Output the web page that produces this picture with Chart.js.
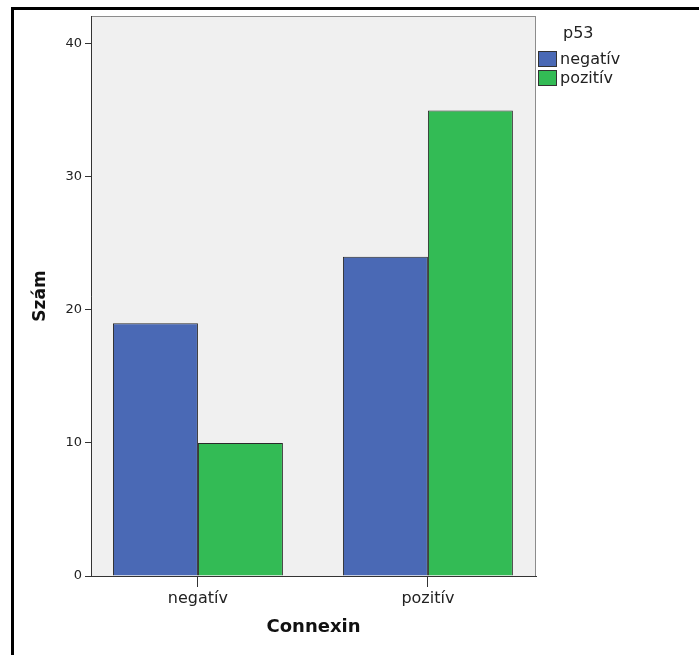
<!doctype html>
<html lang="hu">
<head>
    <meta charset="utf-8">
    <title>Connexin / p53</title>
    <script src="https://cdn.jsdelivr.net/npm/chart.js"></script>
    <style>
        body {
            margin: 0;
            background: #fff;
            font-family: "DejaVu Sans", sans-serif;
        }

        .wrap {
            position: relative;
            width: 699px;
            height: 655px;
            overflow: hidden;
        }

        /* black frame, only top and left are visible */
        .frame {
            position: absolute;
            left: 11px;
            top: 7px;
            width: 720px;
            height: 700px;
            border-top: 3px solid #000;
            border-left: 3px solid #000;
        }

        canvas {
            position: absolute;
            left: 0;
            top: 0;
        }

        .legend {
            position: absolute;
            left: 538px;
            top: 22px;
            font-size: 16px;
            color: #222;
        }

        .legend .title {
            margin-left: 25px;
            height: 27px;
            line-height: 22px;
        }

        .legend .item {
            display: flex;
            align-items: center;
            height: 19px;
        }

        .legend .box {
            width: 17px;
            height: 14px;
            border: 1px solid #333;
            margin-right: 3px;
        }
    </style>
</head>

<body>
    <div class="wrap">
        <div class="frame"></div>
        <canvas id="chart" width="699" height="655"></canvas>
        <div class="legend" id="legend"></div>
    </div>

    <script>
        // data
        const categories = ['negatív', 'pozitív'];
        const seriesNames = ['negatív', 'pozitív'];
        const negativValues = [19, 24];
        const pozitivValues = [10, 35];
        const yTicks = [0, 10, 20, 30, 40];

        const colors = ['#4a69b5', '#33bb55'];

        // legend
        const legend = document.getElementById('legend');
        legend.innerHTML = '<div class="title">p53</div>' + seriesNames.map((name, i) =>
            '<div class="item"><span class="box" style="background:' + colors[i] + '"></span>' + name + '</div>'
        ).join('');

        // grey plot background with thin frame
        const plotBackground = {
            id: 'plotBackground',
            beforeDraw(chart) {
                const { ctx, chartArea: a } = chart;
                ctx.save();
                ctx.fillStyle = '#f0f0f0';
                ctx.fillRect(a.left, a.top, a.right - a.left, a.bottom - a.top);
                ctx.strokeStyle = '#8c8c8c';
                ctx.lineWidth = 1;
                ctx.strokeRect(a.left + 0.5, a.top + 0.5, a.right - a.left - 1, a.bottom - a.top);
                ctx.restore();
            }
        };

        const toPoints = vals => vals.map((v, i) => ({ x: i, y: v }));

        new Chart(document.getElementById('chart'), {
            type: 'bar',
            data: {
                datasets: [{
                    label: seriesNames[0],
                    data: toPoints(negativValues),
                    backgroundColor: colors[0],
                    borderColor: '#2a2a2a',
                    borderWidth: 1
                }, {
                    label: seriesNames[1],
                    data: toPoints(pozitivValues),
                    backgroundColor: colors[1],
                    borderColor: '#2a2a2a',
                    borderWidth: 1
                }]
            },
            options: {
                responsive: false,
                animation: false,
                categoryPercentage: 0.739,
                barPercentage: 1,
                layout: { padding: { left: 0, top: 16, right: 163, bottom: 0 } },
                plugins: {
                    legend: { display: false },
                    tooltip: { enabled: false }
                },
                scales: {
                    x: {
                        type: 'linear',
                        offset: false,
                        min: -0.465,
                        max: 1.47,
                        afterBuildTicks(scale) {
                            scale.ticks = categories.map((c, i) => ({ value: i }));
                        },
                        afterFit(scale) {
                            scale.height = 79;
                        },
                        ticks: {
                            autoSkip: false,
                            padding: 2,
                            color: '#222',
                            font: { family: 'DejaVu Sans', size: 16 },
                            callback: v => categories[v]
                        },
                        grid: {
                            offset: false,
                            drawOnChartArea: false,
                            tickLength: 11,
                            color: '#333'
                        },
                        border: { color: '#333', width: 1 },
                        title: {
                            display: true,
                            text: 'Connexin',
                            color: '#111',
                            font: { family: 'DejaVu Sans', size: 18, weight: 'bold' },
                            padding: { top: 0, bottom: 17 }
                        }
                    },
                    y: {
                        min: 0,
                        max: 42.1,
                        afterBuildTicks(scale) {
                            scale.ticks = yTicks.map(v => ({ value: v }));
                        },
                        afterFit(scale) {
                            scale.width = 91;
                        },
                        ticks: {
                            padding: 3,
                            color: '#222',
                            font: { family: 'DejaVu Sans', size: 13 }
                        },
                        grid: {
                            drawOnChartArea: false,
                            tickLength: 6,
                            color: '#333'
                        },
                        border: { color: '#333', width: 1 },
                        title: {
                            display: true,
                            text: 'Szám',
                            color: '#111',
                            font: { family: 'DejaVu Sans', size: 17, weight: 'bold' },
                            padding: { top: 30, bottom: 0 }
                        }
                    }
                }
            },
            plugins: [plotBackground]
        });
    </script>
</body>

</html>
